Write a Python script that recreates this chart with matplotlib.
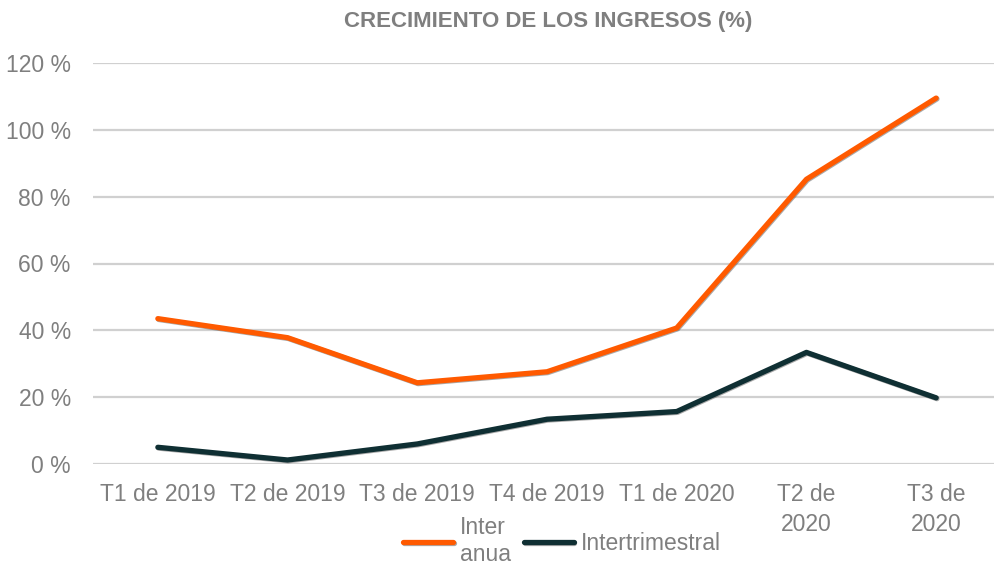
import matplotlib
matplotlib.use("Agg")
import matplotlib.pyplot as plt
import matplotlib.patheffects as pe

# datos
trimestres = ["T1 de 2019", "T2 de 2019", "T3 de 2019", "T4 de 2019",
              "T1 de 2020", "T2 de\n2020", "T3 de\n2020"]
interanual = [43.5, 37.8, 24.3, 27.6, 40.7, 85.2, 109.5]
intertrimestral = [5.0, 1.2, 6.0, 13.4, 15.7, 33.4, 19.8]
yticks = [0, 20, 40, 60, 80, 100, 120]

gris = "#7f7f7f"
naranja = "#ff5a00"
oscuro = "#0f2f33"

plt.rcParams["font.family"] = ["Liberation Sans", "DejaVu Sans"]

fig = plt.figure(figsize=(9.95, 5.65), dpi=100)
ax = fig.add_axes([93 / 995, 1 - 464 / 565, 908 / 995, (464 - 63) / 565])

x = range(len(trimestres))
sombra = [pe.SimpleLineShadow(offset=(0.6, -0.6), shadow_color="#555555", alpha=0.5), pe.Normal()]
ax.plot(x, interanual, color=naranja, lw=3.8, solid_capstyle="round",
        solid_joinstyle="round", path_effects=sombra, label="Inter\nanua", zorder=3)
ax.plot(x, intertrimestral, color=oscuro, lw=3.8, solid_capstyle="round",
        solid_joinstyle="round", path_effects=sombra, label="Intertrimestral", zorder=3)

ax.set_xlim(-0.5, len(trimestres) - 0.5)
ax.set_ylim(0, 120)
ax.set_yticks(yticks)
ax.set_yticklabels([f"{v} %" for v in yticks])
ax.set_xticks(list(x))
ax.set_xticklabels(trimestres, linespacing=1.35, va="top")
ax.tick_params(axis="both", length=0, labelsize=16.5, labelcolor=gris)
ax.tick_params(axis="y", pad=16)
ax.tick_params(axis="x", pad=14)
ax.grid(axis="y", color="#d0d0d0", lw=1.6)
ax.set_axisbelow(True)
for s in ax.spines.values():
    s.set_visible(False)

fig.text(548 / 995, 1 - 22 / 565, "CRECIMIENTO DE LOS INGRESOS (%)", ha="center",
         va="center", fontsize=16, fontweight="bold", color=gris)

leg = fig.legend(loc="center", bbox_to_anchor=(562 / 995, 1 - 541 / 565), ncol=2,
                 frameon=False, fontsize=16.5, handlelength=2.15, handletextpad=0.3,
                 columnspacing=0.6, borderpad=0.2)
for t in leg.get_texts():
    t.set_color(gris)

fig.savefig("out.png", dpi=100)
